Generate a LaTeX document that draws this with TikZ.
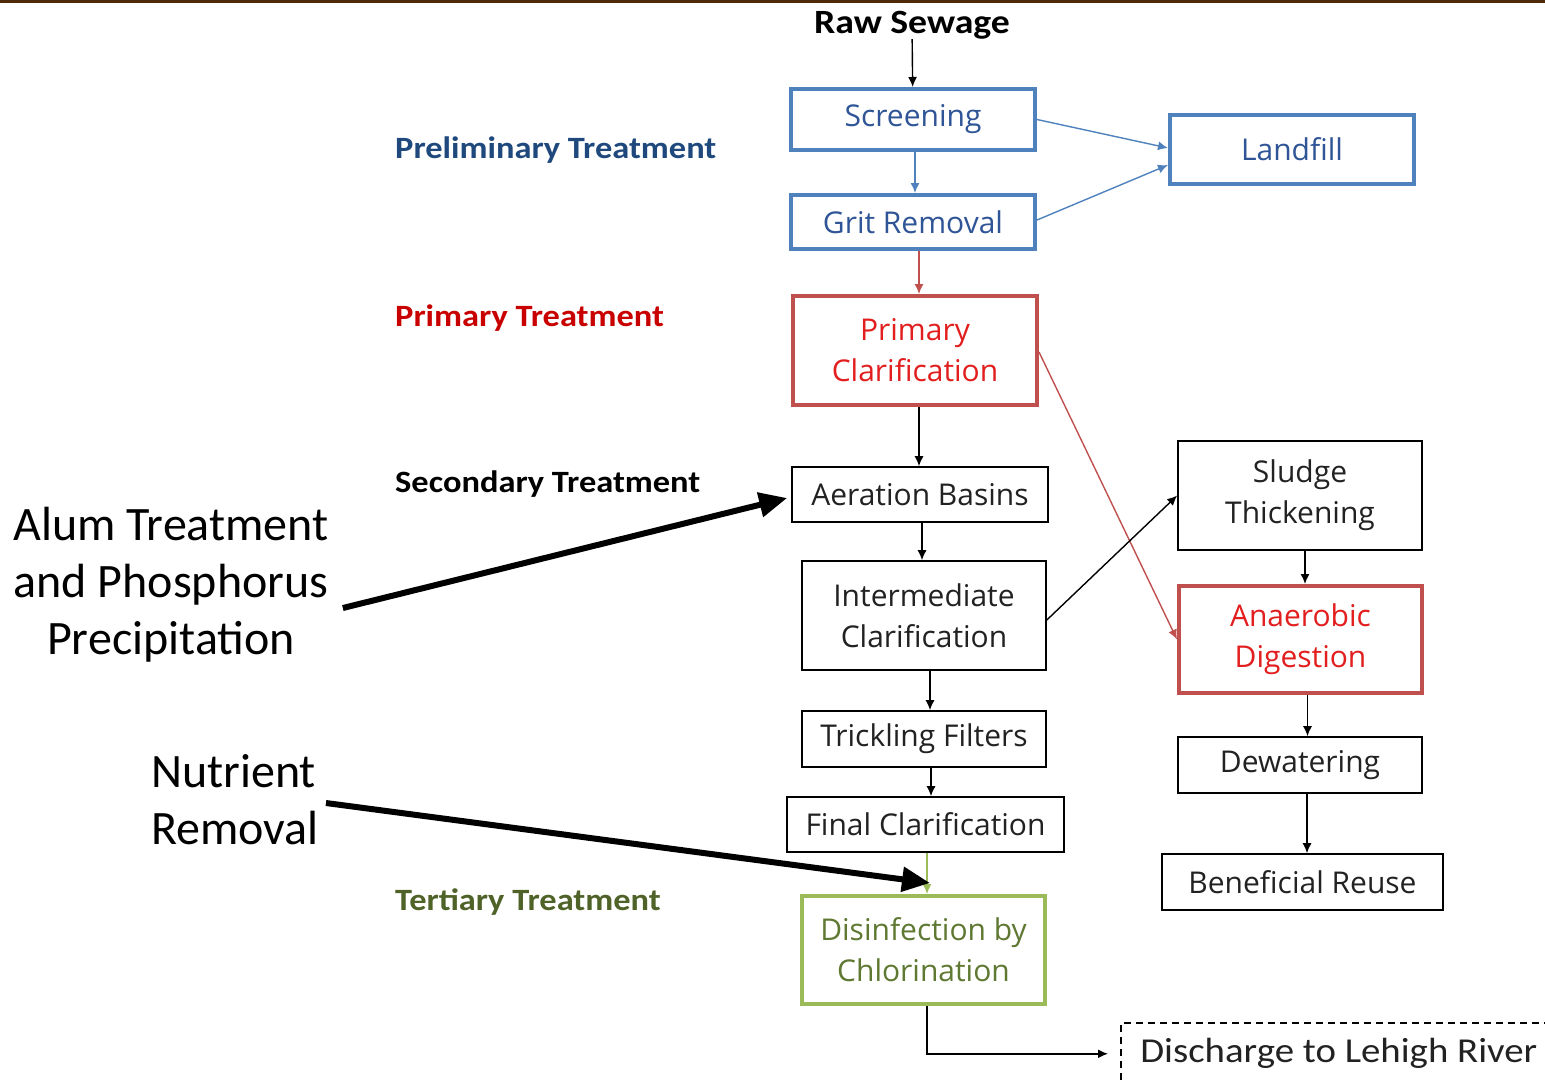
\documentclass[tikz,border=0pt]{standalone}
\usepackage{fontspec}
\setmainfont{Carlito}
\newfontfamily\boxfont{Open Sans}
\newfontfamily\stagefont{Carlito}[FakeStretch=1.11]
\usepackage{tikz}
\usetikzlibrary{arrows.meta, positioning, calc}

\begin{document}
\begin{tikzpicture}[
    x=1pt, y=-1pt,
    >=Latex,
    every node/.style={inner sep=0pt},
    box/.style={
        draw=black, line width=1.6pt, fill=white, align=center,
        minimum width=244pt, text=cText,
        font=\boxfont\fontsize{30}{41}\selectfont
    },
    blueBox/.style={box, draw=cBlueLine, line width=4pt, text=cBlueText},
    redBox/.style={box, draw=cRedLine, line width=4pt, text=cRedText},
    greenBox/.style={box, draw=cGreenLine, line width=4pt, text=cGreenText},
    stage/.style={anchor=west, font=\stagefont\bfseries\fontsize{31}{35}\selectfont},
    note/.style={font=\fontsize{48}{57}\selectfont},
    flow/.style={draw=black, line width=1.4pt, -{Latex[length=10pt,width=9pt]}},
    noteflow/.style={draw=black, line width=6pt, -{Triangle[length=28pt,width=24pt]}}
]
\definecolor{cTop}{RGB}{78,42,10}
\definecolor{cText}{RGB}{34,34,34}
\definecolor{cBlueLine}{RGB}{79,129,189}
\definecolor{cBlueText}{RGB}{47,85,151}
\definecolor{cBlueHead}{RGB}{31,73,125}
\definecolor{cRedLine}{RGB}{192,80,77}
\definecolor{cRedText}{RGB}{226,30,30}
\definecolor{cRedHead}{RGB}{200,0,0}
\definecolor{cGreenLine}{RGB}{155,187,89}
\definecolor{cGreenText}{RGB}{95,120,50}
\definecolor{cGreenHead}{RGB}{79,98,40}

\clip (0,0) rectangle (1545,1082);
\fill[cTop] (0,0) rectangle (1545,3);

% Stage labels
\node[stage, text=cBlueHead] (prelim) at (395,150) {Preliminary Treatment};
\node[stage, text=cRedHead] (primlabel) at (395,318) {Primary Treatment};
\node[stage, text=black] (seclabel) at (395,484) {Secondary Treatment};
\node[stage, text=cGreenHead] (terlabel) at (395,902) {Tertiary Treatment};

% Main line
\node[font=\stagefont\bfseries\fontsize{34}{40}\selectfont] (raw) at (912,25) {Raw Sewage};
\node[blueBox, minimum height=61pt] (screen) at (913,119.5) {Screening};
\node[blueBox, minimum height=54pt] (grit) at (913,222) {Grit Removal};
\node[blueBox, minimum height=69pt] (landfill) at (1292,149.5) {Landfill};
\node[redBox, minimum height=109pt] (primary) at (915,350.5)
    {Primary\\Clarification};
\node[box, minimum width=256pt, minimum height=55pt] (aer) at (920,494.5)
    {Aeration Basins};
\node[box, minimum height=109pt] (inter) at (924,615.5)
    {Intermediate\\Clarification};
\node[box, minimum height=56pt] (trick) at (924,739) {Trickling Filters};
\node[box, minimum width=277pt, minimum height=55pt] (final) at (925.5,824.5)
    {Final Clarification};
\node[greenBox, minimum width=243pt, minimum height=108pt] (dis) at (923.5,950)
    {Disinfection by\\Chlorination};
\node[box, dashed, dash pattern=on 7pt off 5pt, anchor=north west,
      minimum width=436pt, minimum height=62pt,
      font=\stagefont\fontsize{35}{40}\selectfont]
    (discharge) at (1120,1022) {Discharge to Lehigh River};

% Sludge line
\node[box, minimum height=109pt] (sludge) at (1300,495.5) {Sludge\\Thickening};
\node[redBox, minimum width=243pt, minimum height=107pt] (anaer) at (1300.5,639.5)
    {Anaerobic\\Digestion};
\node[box, minimum height=56pt] (dewater) at (1300,765) {Dewatering};
\node[box, minimum width=281pt, minimum height=56pt] (reuse) at (1302.5,882)
    {Beneficial Reuse};

% Notes
\node[note, align=center] (alum) at (171,585)
    {Alum Treatment\\and Phosphorus\\Precipitation};
\node[note, align=left] (nutrient) at (235,800) {Nutrient\\Removal};

% Edges
\draw[flow] (raw) -- (screen);
\draw[flow, draw=cBlueLine] ([xshift=2]screen.south) -- ([xshift=2]screen.south |- grit.north);
\draw[flow, draw=cBlueLine] (screen.east) -- ([yshift=1.5]landfill.west);
\draw[flow, draw=cBlueLine] ([yshift=2]grit.east) -- ([yshift=-15.5]landfill.west);
\draw[flow, draw=cRedLine] ([xshift=6]grit.south) -- ([xshift=6]grit.south |- primary.north);
\draw[flow] ([xshift=4]primary.south) -- ([xshift=4]primary.south |- aer.north);
\draw[flow] ([xshift=2]aer.south) -- ([xshift=2]aer.south |- inter.north);
\draw[flow] ([xshift=6]inter.south) -- ([xshift=6]inter.south |- trick.north);
\draw[flow] ([xshift=7]trick.south) -- ([xshift=7]trick.south |- final.north);
\draw[flow, draw=cGreenLine] ([xshift=1.5]final.south) -- ([xshift=1.5]final.south |- dis.north);
\draw[flow, shorten >=12pt] ([xshift=3.5]dis.south) |- (discharge.west);

\draw[flow, draw=cRedLine] ([yshift=-1.5]primary.east) -- (anaer.west);
\draw[flow] ([yshift=-4.5]inter.east) -- (sludge.west);
\draw[flow] ([xshift=5]sludge.south) -- ([xshift=5]sludge.south |- anaer.north);
\draw[flow] ([xshift=7]anaer.south) -- ([xshift=7]anaer.south |- dewater.north);
\draw[flow] ([xshift=7]dewater.south) -- ([xshift=7]dewater.south |- reuse.north);

\draw[noteflow] ([xshift=14,yshift=-23]alum.east) -- ([xshift=-4,yshift=-3.5]aer.west);
\draw[noteflow] ([xshift=7,yshift=-3]nutrient.east) -- ([xshift=6.5,yshift=11]dis.north);

\end{tikzpicture}
\end{document}
